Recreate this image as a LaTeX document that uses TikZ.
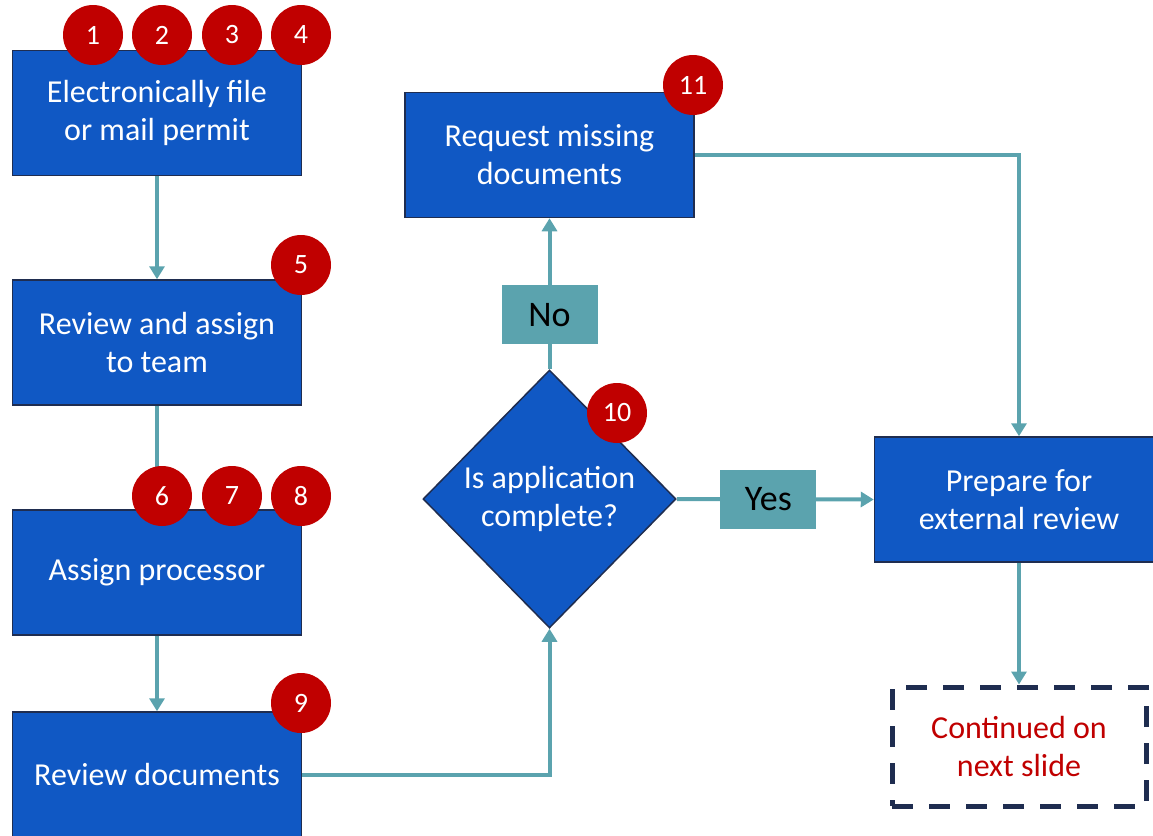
\documentclass[tikz,border=0pt]{standalone}
\usepackage{fontspec}
\setmainfont{Carlito}
\usetikzlibrary{shapes.geometric,arrows.meta}
\definecolor{stepblue}{RGB}{16,88,196}
\definecolor{edgenavy}{RGB}{31,45,80}
\definecolor{flowteal}{RGB}{91,163,174}
\definecolor{badgered}{RGB}{192,0,0}

\begin{document}
\begin{tikzpicture}[x=1pt, y=-1pt,
    stepbox/.style={draw=edgenavy, line width=1.5pt, fill=stepblue, text=white, minimum width=289pt, minimum height=125pt, align=center, font=\fontsize{32}{38}\selectfont},
    decision/.style={diamond, draw=edgenavy, line width=1.5pt, fill=stepblue, text=white, inner sep=0pt, minimum width=253pt, minimum height=258pt, align=center, font=\fontsize{32}{38}\selectfont},
    answer/.style={fill=flowteal, text=black, minimum width=96pt, minimum height=59pt, font=\fontsize{36}{40}\selectfont},
    badge/.style={circle, fill=badgered, text=white, minimum size=60pt, inner sep=0pt, font=\fontsize{28}{30}\selectfont},
    nextbox/.style={draw=edgenavy, line width=5pt, dash pattern=on 21pt off 16pt, minimum width=254pt, minimum height=119pt, align=center, text=badgered, font=\fontsize{32}{38}\selectfont},
    flow/.style={draw=flowteal, line width=4pt, -{Triangle[width=15pt,length=13pt]}}]
    \useasboundingbox (0,0) rectangle (1153,835);

    % Left column
    \node[stepbox] (efile) at (157,113) {Electronically file\\or mail permit};
    \node[stepbox] (review) at (157,342.5) {Review and assign\\to team};
    \node[stepbox] (assign) at (157,572.5) {Assign processor};
    \node[stepbox] (revdocs) at (157,774.5) {Review documents};

    % Decision and request
    \node[decision] (complete) at (549.5,499) {Is application\\complete?};
    \node[stepbox] (request) at (549.5,155) {Request missing\\documents};

    % Right column
    \node[stepbox] (prepare) at (1019,499.5) {Prepare for\\external review};
    \node[nextbox] (contd) at (1019,746.5) {Continued on\\next slide};

    % Connectors
    \draw[flow] (efile) -- (review);
    \draw[flow] (review) -- (assign);
    \draw[flow] (assign) -- (revdocs);
    \draw[flow] (revdocs.east) -| (complete.south);
    \draw[flow] (complete.north) -- node[answer, pos=0.36] (nolab) {No} (request.south);
    \draw[flow] (complete.east) -- node[answer, pos=0.465] (yeslab) {Yes} (prepare.west);
    \draw[flow] (request.east) -| (prepare.north);
    \draw[flow] (prepare) -- (contd);

    % Step numbers
    \foreach \n/\x/\y in {1/93/35, 2/162/35, 3/232/35, 4/301/35, 5/301/265, 6/162/496, 7/232/496, 8/301/496, 9/301/703, 10/617/413, 11/693/85}
        \node[badge] (badge\n) at (\x,\y) {\n};
\end{tikzpicture}
\end{document}
